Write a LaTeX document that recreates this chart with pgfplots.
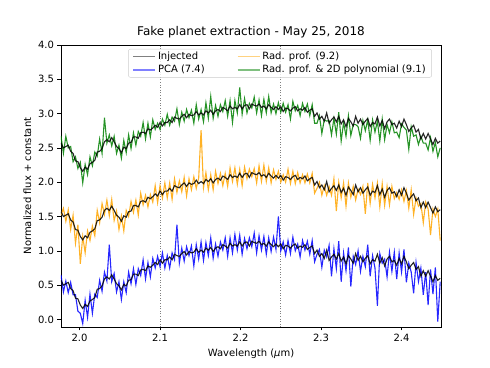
\documentclass[border=0pt]{standalone}
\usepackage{fontspec}
\setmainfont{DejaVu Sans}
\usepackage{pgfplots}
\usepackage{pgfplotstable}
\pgfplotsset{compat=1.18}
\usetikzlibrary{calc}

\definecolor{mblue}{RGB}{0,0,255}
\definecolor{morange}{RGB}{255,165,0}
\definecolor{mgreen}{RGB}{0,128,0}

% x, injected (offset 0), PCA, injected +1, rad. prof., injected +2, rad. prof. & 2D poly
\pgfplotstableread{
x inj pca inja rad injb poly
1.977 0.57 0.65 1.57 1.52 2.57 2.67
1.980 0.50 0.40 1.50 1.62 2.50 2.42
1.983 0.52 0.56 1.52 1.43 2.52 2.67
1.986 0.54 0.39 1.54 1.60 2.54 2.50
1.989 0.45 0.54 1.45 1.31 2.45 2.52
1.992 0.42 0.36 1.42 1.52 2.42 2.30
1.995 0.31 0.36 1.31 1.11 2.31 2.37
1.998 0.30 0.12 1.30 1.38 2.30 2.20
2.001 0.21 0.09 1.21 0.81 2.21 2.29
2.004 0.16 -0.06 1.16 1.21 2.16 1.99
2.007 0.22 0.28 1.22 0.97 2.22 2.26
2.010 0.19 0.03 1.19 1.29 2.19 2.11
2.013 0.27 0.37 1.27 1.15 2.27 2.37
2.016 0.29 0.09 1.29 1.36 2.29 2.24
2.019 0.32 0.37 1.32 1.22 2.32 2.44
2.022 0.44 0.32 1.44 1.59 2.44 2.38
2.025 0.45 0.57 1.45 1.41 2.45 2.63
2.028 0.49 0.41 1.49 1.69 2.49 2.42
2.031 0.59 0.69 1.59 1.53 2.59 2.94
2.034 0.62 0.56 1.62 1.74 2.62 2.57
2.037 0.59 1.09 1.59 1.51 2.59 2.69
2.040 0.65 0.55 1.65 1.75 2.65 2.53
2.043 0.59 0.67 1.59 1.44 2.59 2.67
2.046 0.52 0.40 1.52 1.58 2.52 2.42
2.049 0.49 0.55 1.49 1.31 2.49 2.54
2.052 0.43 0.29 1.43 1.51 2.43 2.35
2.055 0.51 0.55 1.51 1.29 2.51 2.61
2.058 0.49 0.39 1.49 1.59 2.49 2.43
2.061 0.57 0.69 1.57 1.50 2.57 2.69
2.064 0.58 0.52 1.58 1.72 2.58 2.49
2.067 0.66 0.74 1.66 1.56 2.66 2.72
2.070 0.66 0.51 1.66 1.74 2.66 2.54
2.073 0.64 0.74 1.64 1.52 2.64 2.74
2.076 0.72 0.64 1.72 1.84 2.72 2.67
2.079 0.73 0.87 1.73 1.67 2.73 2.87
2.082 0.71 0.59 1.71 1.81 2.71 2.63
2.085 0.78 0.83 1.78 1.64 2.78 2.86
2.088 0.76 0.62 1.76 1.82 2.76 2.66
2.091 0.79 0.89 1.79 1.71 2.79 2.91
2.094 0.83 0.75 1.83 1.95 2.83 2.77
2.097 0.80 0.92 1.80 1.70 2.80 2.86
2.100 0.87 0.77 1.87 1.95 2.87 2.77
2.103 0.82 0.97 1.82 1.77 2.82 2.92
2.106 0.87 0.75 1.87 1.99 2.87 2.83
2.109 0.87 0.93 1.87 1.77 2.87 2.99
2.112 0.91 0.75 1.91 1.99 2.91 2.83
2.115 0.87 0.97 1.87 1.75 2.87 2.95
2.118 0.95 0.87 1.95 2.05 2.95 2.89
2.121 0.93 1.38 1.93 1.85 2.93 3.07
2.124 0.92 0.82 1.92 2.02 2.92 2.84
2.127 0.96 1.04 1.96 1.86 2.96 3.02
2.130 0.99 0.85 1.99 2.07 2.99 2.89
2.133 0.94 1.06 1.94 1.80 2.94 3.06
2.136 0.99 0.93 1.99 2.05 2.99 2.94
2.139 0.97 1.07 1.97 1.89 2.97 3.05
2.142 0.98 0.78 1.98 2.08 2.98 2.86
2.145 1.03 1.09 2.03 1.91 3.03 3.13
2.148 0.98 0.88 1.98 2.06 2.98 2.92
2.151 1.01 1.13 2.01 2.76 3.01 3.06
2.154 0.98 0.86 1.98 1.92 2.98 2.88
2.157 1.04 1.12 2.04 2.14 3.04 3.16
2.160 1.01 0.93 2.01 1.89 3.01 2.93
2.163 1.05 1.19 2.05 2.11 3.05 3.25
2.166 0.99 0.89 1.99 1.89 2.99 2.93
2.169 1.04 1.10 2.04 2.16 3.04 3.12
2.172 1.06 0.92 2.06 1.98 3.06 2.96
2.175 1.03 1.13 2.03 2.13 3.03 3.13
2.178 1.09 1.01 2.09 1.95 3.09 3.03
2.181 1.07 1.19 2.07 2.13 3.07 3.19
2.184 1.04 0.92 2.04 1.94 3.04 2.96
2.187 1.11 1.19 2.11 2.21 3.11 3.19
2.190 1.07 0.97 2.07 2.01 3.07 2.87
2.193 1.09 1.24 2.09 2.21 3.09 3.19
2.196 1.07 1.01 2.07 1.97 3.07 3.01
2.199 1.13 1.23 2.13 2.19 3.13 3.38
2.202 1.07 0.95 2.07 1.95 3.07 2.99
2.205 1.12 1.18 2.12 2.22 3.12 3.22
2.208 1.13 1.03 2.13 2.05 3.13 3.01
2.211 1.07 1.19 2.07 2.19 3.07 3.15
2.214 1.14 1.06 2.14 2.08 3.14 3.08
2.217 1.12 1.26 2.12 2.20 3.12 3.24
2.220 1.11 0.97 2.11 1.99 3.11 3.01
2.223 1.14 1.22 2.14 2.24 3.14 3.20
2.226 1.09 1.01 2.09 2.01 3.09 2.97
2.229 1.11 1.21 2.11 2.25 3.11 3.21
2.232 1.07 0.95 2.07 2.01 3.07 3.01
2.235 1.13 1.19 2.13 2.21 3.13 3.25
2.238 1.09 0.99 2.09 1.99 3.09 3.01
2.241 1.06 1.20 2.06 2.18 3.06 3.14
2.244 1.10 1.02 2.10 2.04 3.10 3.00
2.247 1.06 1.50 2.06 2.16 3.06 3.16
2.250 1.10 1.00 2.10 2.00 3.10 3.02
2.253 1.03 1.13 2.03 2.11 3.03 3.15
2.256 1.08 0.94 2.08 2.00 3.08 3.02
2.259 1.07 1.15 2.07 2.19 3.07 3.13
2.262 1.04 0.96 2.04 1.98 3.04 2.92
2.265 1.08 1.20 2.08 2.16 3.08 3.18
2.268 1.10 1.00 2.10 1.98 3.10 3.04
2.271 1.04 1.10 2.04 2.14 3.04 3.12
2.274 1.07 0.91 2.07 1.99 3.07 2.97
2.277 1.05 1.15 2.05 2.11 3.05 3.15
2.280 1.09 1.01 2.09 1.99 3.09 3.03
2.283 1.02 1.14 2.02 2.12 3.02 3.14
2.286 1.05 0.95 2.05 1.99 3.05 2.97
2.289 1.07 1.15 2.07 2.13 3.07 3.13
2.292 0.96 0.84 1.96 1.84 2.96 2.86
2.295 1.01 0.95 2.01 1.91 3.01 2.86
2.298 0.92 1.02 1.92 2.00 2.92 2.97
2.301 0.96 0.76 1.96 1.81 2.96 2.71
2.304 0.89 1.01 1.89 1.95 2.89 2.91
2.307 1.01 0.91 2.01 1.81 3.01 2.89
2.310 0.86 1.08 1.86 1.94 2.86 2.90
2.313 0.91 0.63 1.91 1.81 2.91 2.69
2.316 0.95 1.03 1.95 2.05 2.95 2.93
2.319 0.88 0.74 1.88 1.58 2.88 2.70
2.322 0.96 1.14 1.96 2.00 2.96 3.02
2.325 0.85 0.55 1.85 1.77 2.85 2.60
2.328 0.91 0.97 1.91 1.99 2.91 2.87
2.331 0.81 0.71 1.81 1.65 2.81 2.67
2.334 0.93 1.05 1.93 1.99 2.93 2.97
2.337 0.88 0.48 1.88 1.78 2.88 2.68
2.340 0.82 0.92 1.82 1.94 2.82 2.84
2.343 0.96 0.80 1.96 1.74 2.96 2.84
2.346 0.86 1.00 1.86 1.90 2.86 2.81
2.349 0.92 0.70 1.92 1.82 2.92 2.64
2.352 0.84 0.92 1.84 1.94 2.84 2.90
2.355 0.89 0.77 1.89 1.54 2.89 2.75
2.358 0.93 1.09 1.93 1.99 2.93 2.91
2.361 0.81 0.63 1.81 1.69 2.81 2.61
2.364 0.87 0.93 1.87 1.97 2.87 2.91
2.367 0.85 0.75 1.85 1.77 2.85 2.73
2.370 0.95 0.20 1.95 1.99 2.95 2.89
2.373 0.82 0.96 1.82 1.64 2.82 2.60
2.376 0.90 0.82 1.90 1.98 2.90 2.92
2.379 0.78 0.88 1.78 1.66 2.78 2.62
2.382 0.88 0.62 1.88 1.94 2.88 2.84
2.385 0.92 0.98 1.92 1.67 2.92 2.72
2.388 0.84 0.70 1.84 1.94 2.84 2.88
2.391 0.86 0.98 1.86 1.76 2.86 2.72
2.394 0.79 0.59 1.79 1.85 2.79 2.73
2.397 0.89 0.97 1.89 1.75 2.89 2.65
2.400 0.81 0.69 1.81 1.89 2.81 2.85
2.403 0.92 1.02 1.92 1.72 2.92 2.80
2.406 0.84 0.54 1.84 1.88 2.84 2.76
2.409 0.74 0.82 1.74 1.62 2.74 2.48
2.412 0.79 0.69 1.79 1.89 2.79 2.81
2.415 0.83 0.38 1.83 1.53 2.83 2.67
2.418 0.73 0.83 1.73 1.77 2.73 2.69
2.421 0.77 0.55 1.77 1.65 2.77 2.55
2.424 0.63 0.75 1.63 1.69 2.63 2.67
2.427 0.71 0.36 1.71 1.41 2.71 2.57
2.430 0.63 0.69 1.63 1.71 2.63 2.57
2.433 0.71 0.21 1.71 1.61 2.71 2.47
2.436 0.63 0.73 1.63 1.23 2.63 2.65
2.439 0.55 0.37 1.55 1.61 2.55 2.45
2.442 0.64 0.76 1.64 1.50 2.64 2.58
2.445 0.57 -0.03 1.57 1.61 2.57 2.37
2.448 0.60 0.55 1.60 1.15 2.60 2.50
}\spec

\begin{document}
\begin{tikzpicture}
\begin{axis}[
  scale only axis,
  width=380pt, height=282pt,
  xmin=1.977, xmax=2.449,
  ymin=-0.11, ymax=4.0,
  xtick={2.0,2.1,2.2,2.3,2.4},
  ytick={0,0.5,1,1.5,2,2.5,3,3.5,4},
  xticklabel style={/pgf/number format/.cd, fixed, fixed zerofill, precision=1},
  yticklabel style={/pgf/number format/.cd, fixed, fixed zerofill, precision=1},
  /pgf/number format/assume math mode=true,
  tick label style={font=\fontsize{10}{12}\selectfont},
  tick align=outside, tick pos=left,
  major tick length=3.5pt,
  axis line style={line width=0.6pt},
  every tick/.style={black, line width=0.6pt},
  title={Fake planet extraction - May 25, 2018},
  title style={font=\fontsize{12}{14}\selectfont, yshift=-3pt},
  xlabel={Wavelength (\textit{μ}m)},
  ylabel={Normalized flux + constant},
  label style={font=\fontsize{10}{12}\selectfont},
  legend columns=2,
  legend cell align=left,
  legend style={at={(0.976,0.986)}, anchor=north east,
    font=\fontsize{10}{12}\selectfont, draw=black!20, rounded corners=2pt,
    fill=white, fill opacity=0.8, text opacity=1,
    /tikz/every even column/.append style={column sep=30pt},
    inner xsep=4pt, inner ysep=1pt},
  legend image code/.code={\draw[line width=1.6pt] (0pt,0pt) -- (22pt,0pt);},
]
% reference wavelengths
\addplot[forget plot, gray, dotted, line width=0.6pt] coordinates {(2.1,-0.11) (2.1,4.0)};
\addplot[forget plot, gray, dotted, line width=0.6pt] coordinates {(2.25,-0.11) (2.25,4.0)};

\addplot[forget plot, mblue, opacity=0.85, line width=1.1pt] table[x=x, y=pca] {\spec};
\addplot[forget plot, black, opacity=0.85, line width=1.1pt] table[x=x, y=inj] {\spec};
\addplot[forget plot, morange, opacity=0.85, line width=1.1pt] table[x=x, y=rad] {\spec};
\addplot[forget plot, black, opacity=0.85, line width=1.1pt] table[x=x, y=inja] {\spec};
\addplot[forget plot, mgreen, opacity=0.85, line width=1.1pt] table[x=x, y=poly] {\spec};
\addplot[forget plot, black, opacity=0.85, line width=1.1pt] table[x=x, y=injb] {\spec};

% legend, matplotlib column order
\addlegendimage{black!50}
\addlegendentry{Injected}
\addlegendimage{morange!50}
\addlegendentry{Rad. prof. (9.2)}
\addlegendimage{mblue!50}
\addlegendentry{PCA (7.4)}
\addlegendimage{mgreen!50}
\addlegendentry{Rad. prof. \& 2D polynomial (9.1)}
\end{axis}
\path ($(current axis.south west)+(-61pt,-41pt)$) rectangle ($(current axis.north east)+(49pt,45pt)$);
\end{tikzpicture}
\end{document}
